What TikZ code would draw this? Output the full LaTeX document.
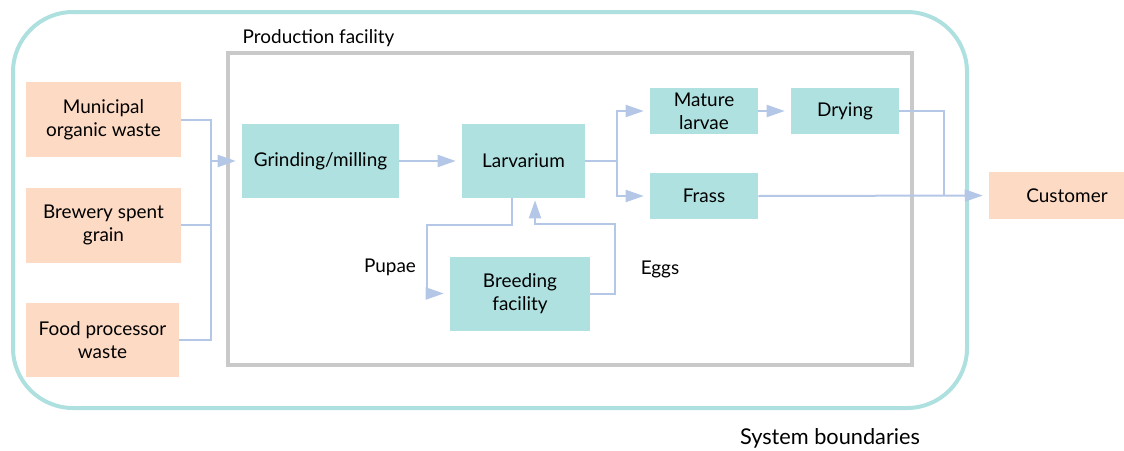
\documentclass[tikz,border=0pt]{standalone}
\usepackage{fontspec}
\setmainfont{Lato}
\usetikzlibrary{
    arrows.meta,
    calc
}

\definecolor{peach}{HTML}{FDDAC4}
\definecolor{teal}{HTML}{AEE1E0}
\definecolor{flowblue}{HTML}{B4C7E7}
\definecolor{framegrey}{HTML}{C9C9C9}
\definecolor{bound}{HTML}{AEE0E0}

\tikzset{
    box/.style={inner sep=0pt, align=center, font=\fontsize{14.2pt}{17pt}\selectfont},
    source/.style={box, fill=peach},
    proc/.style={box, fill=teal},
    flow/.style={draw=flowblue, line width=1.5pt},
    flowarr/.style={flow, -{Triangle[length=13.5pt,width=9pt]}, shorten >=4.5pt},
    lbl/.style={font=\fontsize{14.2pt}{17pt}\selectfont}
}

\begin{document}
\begin{tikzpicture}[x=0.75pt,y=-0.75pt]

\useasboundingbox (0,0) rectangle (1124,450);

% System boundary
\draw[bound, line width=3pt, rounded corners=45pt] (13,12) rectangle (967,408);
\node[font=\fontsize{16.3pt}{19pt}\selectfont] (sysl) at (830,438) {System boundaries};

% Production facility
\draw[framegrey, line width=2.5pt] (228,53) rectangle (912,365);
\node[lbl, anchor=west] (prodl) at (238,38) {Production facility};

% Inputs
\node[source, minimum width=116.25pt, minimum height=56.25pt] (mun) at (103.5,119.5) {Municipal\\organic waste};
\node[source, minimum width=116.25pt, minimum height=56.25pt] (brew) at (103.5,225) {Brewery spent\\grain};
\node[source, minimum width=114.75pt, minimum height=55.5pt] (food) at (102.5,340) {Food processor\\waste};

% Process steps
\node[proc, minimum width=117.75pt, minimum height=55.5pt] (grind) at (320.5,161) {\raisebox{-1pt}{Grinding/milling}};
\node[proc, minimum width=92.25pt, minimum height=55.5pt] (larv) at (523.5,161) {\raisebox{-1pt}{Larvarium}};
\node[proc, minimum width=81pt, minimum height=34.5pt] (mature) at (704,111) {Mature\\larvae};
\node[proc, minimum width=81pt, minimum height=34.5pt] (dry) at (845,111) {Drying};
\node[proc, minimum width=81pt, minimum height=34.5pt] (frass) at (704,196) {Frass};
\node[proc, minimum width=105pt, minimum height=55.5pt] (breed) at (520,293.5) {Breeding\\facility};

% Customer
\node[source, minimum width=101.25pt, minimum height=35.25pt] (cust) at (1056.5,195.5) {};
\node[box] (custl) at (1067,196) {Customer};

% Junctions
\coordinate (jin) at (211,161);
\coordinate (jout) at (617,161);
\coordinate (jcust) at (944,196);
\coordinate (pu1) at (512,225);
\coordinate (pu2) at (427,293.5);
\coordinate (eg1) at (615,224);
\coordinate (eg2) at (535,224);

% Flows
\draw[flow] (mun.east) -| (jin);
\draw[flow] (brew.east) -| (jin);
\draw[flow] (food.east) -| (jin);
\draw[flowarr] (jin) -- (grind.west);
\draw[flowarr] (grind.east) -- (larv.west);
\draw[flow] (larv.east) -- (jout);
\draw[flowarr] (jout) |- (mature.west);
\draw[flowarr] (jout) |- (frass.west);
\draw[flowarr] (mature.east) -- (dry.west);
\draw[flow] (dry.east) -| (jcust);
\draw[flowarr] (frass.east) -- (cust.west);

% Breeding loop
\draw[flowarr] (larv.south -| pu1) -- (pu1) -| (pu2) -- (breed.west);
\node[lbl] (pupl) at (390,267) {Pupae};
\draw[flowarr, shorten >=1.5pt] (breed.east) -| (eg1) -- (eg2) -- (eg2 |- larv.south);
\node[lbl] (eggl) at (660,269) {Eggs};

\end{tikzpicture}
\end{document}
